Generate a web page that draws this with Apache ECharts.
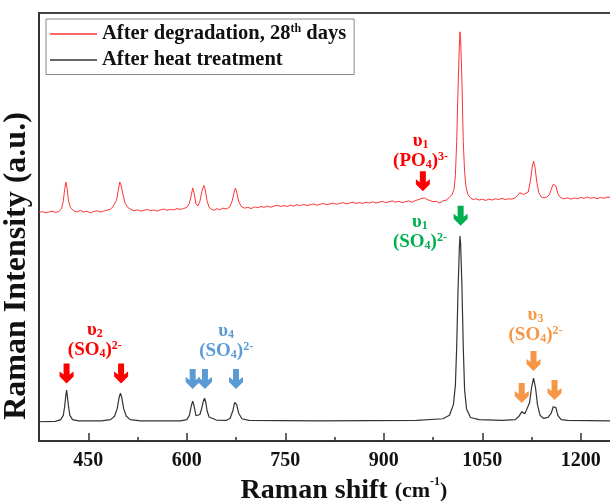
<!DOCTYPE html>
<html>
<head>
<meta charset="utf-8">
<script src="https://cdn.jsdelivr.net/npm/echarts@6/dist/echarts.min.js"></script>
<style>
html, body { margin: 0; padding: 0; background: #fff; }
#chart { width: 610px; height: 501px; }
</style>
</head>
<body>
<div id="chart"></div>
<script>
var seriesNames = ['After degradation, 28th days', 'After heat treatment'];
var majorTicks = [450, 600, 750, 900, 1050, 1200];
var minorTicks = [525, 675, 825, 975, 1125];

// [Raman shift, intensity a.u.]
var redSpectrum = [
    [375,53.4],[380,53.6],[385,53.3],[390,53.5],[395,53.7],[400,53.4],[405,53.6],[409,54.2],[412,56],[414,58.8],
    [416,60.5],[418,58.8],[420,56],[423,54.5],[428,53.8],[433,53.5],[438,53.9],[443,53.5],[448,53.7],[453,53.3],
    [458,53.6],[463,53.8],[468,53.5],[473,53.7],[478,53.9],[483,54.1],[487,54.6],[490,55.0],[493,56.2],[496,58.8],
    [498,60.5],[500,59.8],[503,57.5],[506,55.6],[510,54.6],[515,54.1],[520,53.8],[525,54.0],[530,53.7],[535,53.9],
    [540,54.1],[545,53.8],[550,54.0],[555,53.7],[560,54.0],[565,54.2],[570,53.9],[575,54.1],[580,54.0],[585,54.3],
    [590,54.1],[595,54.3],[600,54.6],[604,55.5],[607,57.5],[609,59.1],[611,58.0],[614,55.4],[617,54.9],[620,56.0],
    [623,58.3],[626,59.7],[628,58.8],[631,56.0],[634,54.6],[638,54.1],[642,53.9],[646,54.3],[650,54.0],[655,54.4],
    [660,54.2],[665,54.6],[669,56.0],[672,58.0],[674,59.1],[676,58.2],[679,56.0],[683,54.8],[688,54.4],[693,54.6],
    [698,54.3],[703,54.7],[708,54.5],[713,54.8],[718,54.6],[723,54.9],[728,54.6],[733,54.9],[738,55.1],[743,54.8],
    [748,55.0],[753,54.8],[758,55.1],[763,54.9],[768,55.2],[773,55.0],[778,55.3],[783,55.0],[788,55.2],[793,55.4],
    [798,55.1],[803,55.3],[808,55.5],[813,55.2],[818,55.4],[823,55.6],[828,55.3],[833,55.5],[838,55.7],[843,55.4],
    [848,55.6],[853,55.8],[858,55.5],[863,55.7],[868,55.5],[873,55.8],[878,55.6],[883,55.9],[888,55.6],[893,55.8],
    [898,56.0],[903,55.7],[908,55.9],[913,56.1],[918,55.8],[923,56.0],[928,55.7],[933,55.9],[938,56.1],[943,55.8],
    [948,56.2],[953,56.4],[958,56.7],[962,56.8],[966,56.4],[970,56.2],[975,55.9],[980,56.0],[985,55.6],[990,56.1],
    [995,56.3],[1000,56.9],[1004,57.6],[1007,58.8],[1009,62],[1011,70],[1013,82],[1015,92],[1016,95.6],[1017,94],
    [1019,84],[1021,70],[1023,63],[1025,59.5],[1028,57.6],[1032,56.8],[1036,56.4],[1040,56.6],[1045,56.3],[1050,56.5],
    [1055,56.2],[1060,56.5],[1065,56.3],[1070,56.6],[1075,56.4],[1080,56.7],[1085,56.4],[1090,56.6],[1095,56.5],[1100,56.8],
    [1104,57.4],[1107,58.0],[1110,58.4],[1113,57.6],[1116,57.3],[1120,58.2],[1123,60.5],[1126,64.0],[1128,65.4],[1130,64.2],
    [1133,60.5],[1136,58.0],[1140,57.0],[1144,56.8],[1148,57.0],[1152,57.5],[1155,58.8],[1158,60.0],[1160,60.3],[1162,59.6],
    [1165,57.8],[1169,56.9],[1174,56.6],[1180,56.8],[1185,56.5],[1190,56.8],[1195,56.6],[1200,56.9],[1205,56.7],[1210,57.0],
    [1215,56.7],[1220,56.9],[1225,56.6],[1230,56.9],[1235,56.7],[1240,57.0],[1249,56.8]
];

var blackSpectrum = [
    [375,4.5],[400,4.6],[408,5.0],[412,6.0],[414,8.0],[416,10.8],[417,11.9],[418,10.8],[420,8.0],[422,6.0],
    [426,5.0],[435,4.7],[470,4.7],[484,5.0],[490,5.8],[494,7.5],[497,10.2],[499,11.2],[501,10.2],[504,7.5],
    [508,5.8],[514,5.0],[530,4.7],[590,4.7],[600,5.0],[604,6.0],[607,8.3],[609,9.3],[611,8.3],[614,5.9],
    [617,5.6],[620,6.2],[623,7.8],[625,9.2],[627,10.0],[629,9.0],[631,7.0],[634,5.6],[645,4.9],[660,4.8],[666,5.3],
    [670,7.0],[673,9.0],[674,9.3],[676,8.5],[679,6.5],[684,5.2],[695,4.8],[800,4.7],[950,4.8],[990,5.2],
    [1000,6.0],[1006,8.5],[1009,13],[1011,22],[1013,35],[1015,45],[1016,47.9],[1017,46],[1019,36],[1021,22],
    [1023,12],[1026,7.5],[1032,5.5],[1045,5.0],[1080,4.8],[1100,5.0],[1106,5.8],[1110,6.8],[1112,7.0],[1115,6.4],
    [1118,6.8],[1122,9],[1125,12.5],[1128,14.7],[1131,12.5],[1134,8.5],[1138,6.0],[1143,5.3],[1150,5.5],[1155,6.5],
    [1158,8.0],[1160,8.4],[1162,7.8],[1165,6.0],[1170,5.0],[1180,4.8],[1249,4.7]
];

var RED = '#ff0000', BLUE = '#5b9bd5', GREEN = '#00b050', ORANGE = '#f79646';
var SERIF = '"Liberation Serif", "Times New Roman", serif';

var bandLabels = [
    { coord: [956, 67.8], color: RED, text: '{g|υ}{sub|1}\n{g|(PO}{sub|4}{g|)}{sup|3-}' },
    { coord: [955, 48.8], color: GREEN, text: '{g|υ}{sub|1}\n{g|(SO}{sub|4}{g|)}{sup|2-}' },
    { coord: [460, 23.6], color: RED, text: '{g|υ}{sub|2}\n{g|(SO}{sub|4}{g|)}{sup|2-}' },
    { coord: [660, 23.4], color: BLUE, text: '{g|υ}{sub|4}\n{g|(SO}{sub|4}{g|)}{sup|2-}' },
    { coord: [1131, 27.1], color: ORANGE, text: '{g|υ}{sub|3}\n{g|(SO}{sub|4}{g|)}{sup|2-}' }
];

var bandArrows = [
    { coord: [959.5, 60.7], color: RED },
    { coord: [1017, 52.6], color: GREEN },
    { coord: [417, 15.8], color: RED },
    { coord: [500, 15.8], color: RED },
    { coord: [609, 14.5], color: BLUE },
    { coord: [627.7, 14.5], color: BLUE },
    { coord: [675, 14.5], color: BLUE },
    { coord: [1110, 11.2], color: ORANGE },
    { coord: [1128, 18.7], color: ORANGE },
    { coord: [1160, 11.9], color: ORANGE }
];

var arrowPath = 'path://M4,0 L10,0 L10,11 L14,8 L14,13 L7,20 L0,13 L0,8 L4,11 Z';

var marks = [];
for (var i = 0; i < bandArrows.length; i++) {
    marks.push({
        coord: bandArrows[i].coord,
        symbol: arrowPath,
        symbolSize: [14, 20],
        itemStyle: { color: bandArrows[i].color },
        label: { show: false }
    });
}
for (var i = 0; i < bandLabels.length; i++) {
    marks.push({
        coord: bandLabels[i].coord,
        symbol: 'circle',
        symbolSize: 1,
        itemStyle: { color: 'rgba(0,0,0,0)' },
        label: {
            show: true,
            position: 'inside',
            formatter: bandLabels[i].text,
            color: bandLabels[i].color,
            align: 'center',
            rich: {
                g: { fontFamily: SERIF, fontWeight: 'bold', fontSize: 19, lineHeight: 20, color: bandLabels[i].color },
                sub: { fontFamily: SERIF, fontWeight: 'bold', fontSize: 12, lineHeight: 10, verticalAlign: 'bottom', color: bandLabels[i].color },
                sup: { fontFamily: SERIF, fontWeight: 'bold', fontSize: 12, lineHeight: 10, verticalAlign: 'top', color: bandLabels[i].color }
            }
        }
    });
}

var chart = echarts.init(document.getElementById('chart'), null, { renderer: 'canvas' });

var option = {
    animation: false,
    backgroundColor: '#fff',
    grid: {
        left: 39, right: -3, top: 13, bottom: 60,
        outerBoundsMode: 'none',
        containLabel: false,
        show: true, borderColor: '#444', borderWidth: 2, backgroundColor: 'transparent'
    },
    legend: {
        orient: 'vertical',
        left: 46, top: 19,
        padding: [4, 8, 4, 4],
        itemGap: 5,
        itemWidth: 47, itemHeight: 1.5,
        icon: 'rect',
        selectedMode: false,
        borderColor: '#888', borderWidth: 1,
        data: seriesNames,
        formatter: function (name) {
            if (name === seriesNames[0]) {
                return '{a|After degradation, 28}{s|th}{a| days}';
            }
            return '{a|' + name + '}';
        },
        textStyle: {
            color: '#111',
            rich: {
                a: { fontFamily: SERIF, fontWeight: 'bold', fontSize: 20.5, lineHeight: 22 },
                s: { fontFamily: SERIF, fontWeight: 'bold', fontSize: 12, lineHeight: 12, verticalAlign: 'top' }
            }
        }
    },
    xAxis: [
        {
            type: 'value', min: 375, max: 1249,
            name: '{a|Raman shift }{b|(cm}{c|-1}{b|)}',
            nameLocation: 'middle', nameGap: 32,
            nameTextStyle: {
                padding: [0, 0, 0, 36],
                rich: {
                    a: { fontFamily: SERIF, fontWeight: 'bold', fontSize: 28, color: '#111', lineHeight: 30 },
                    b: { fontFamily: SERIF, fontWeight: 'bold', fontSize: 22, color: '#111', lineHeight: 30 },
                    c: { fontFamily: SERIF, fontWeight: 'bold', fontSize: 12, color: '#111', lineHeight: 12, verticalAlign: 'top' }
                }
            },
            axisLine: { show: true, lineStyle: { color: '#333', width: 2 } },
            axisTick: { show: true, inside: true, length: 8, customValues: majorTicks, lineStyle: { color: '#333', width: 1.5 } },
            axisLabel: {
                show: true, customValues: majorTicks, margin: 10,
                formatter: function (v) { return String(v); },
                fontFamily: SERIF, fontWeight: 'bold', fontSize: 20, color: '#111'
            },
            splitLine: { show: false }
        },
        {
            type: 'value', min: 375, max: 1249, position: 'bottom',
            axisLine: { show: false },
            axisTick: { show: true, inside: true, length: 4, customValues: minorTicks, lineStyle: { color: '#333', width: 1.5 } },
            axisLabel: { show: false },
            splitLine: { show: false }
        }
    ],
    yAxis: {
        type: 'value', min: 0, max: 100,
        name: 'Raman Intensity (a.u.)',
        nameLocation: 'middle', nameGap: 6, nameRotate: 90,
        nameTextStyle: {
            fontFamily: SERIF, fontWeight: 'bold', fontSize: 32, color: '#111',
            padding: [0, 78, 0, 0]
        },
        axisLine: { show: true, lineStyle: { color: '#333', width: 2 } },
        axisTick: { show: false },
        axisLabel: { show: false },
        splitLine: { show: false }
    },
    series: [
        {
            name: seriesNames[0],
            type: 'line',
            data: redSpectrum,
            showSymbol: false, symbol: 'none',
            lineStyle: { color: '#ff3333', width: 1 },
            itemStyle: { color: '#ff3333' }
        },
        {
            name: seriesNames[1],
            type: 'line',
            data: blackSpectrum,
            showSymbol: false, symbol: 'none',
            lineStyle: { color: '#333', width: 1.2 },
            itemStyle: { color: '#333' },
            markPoint: { silent: true, data: marks }
        }
    ]
};

chart.setOption(option);
</script>
</body>
</html>
